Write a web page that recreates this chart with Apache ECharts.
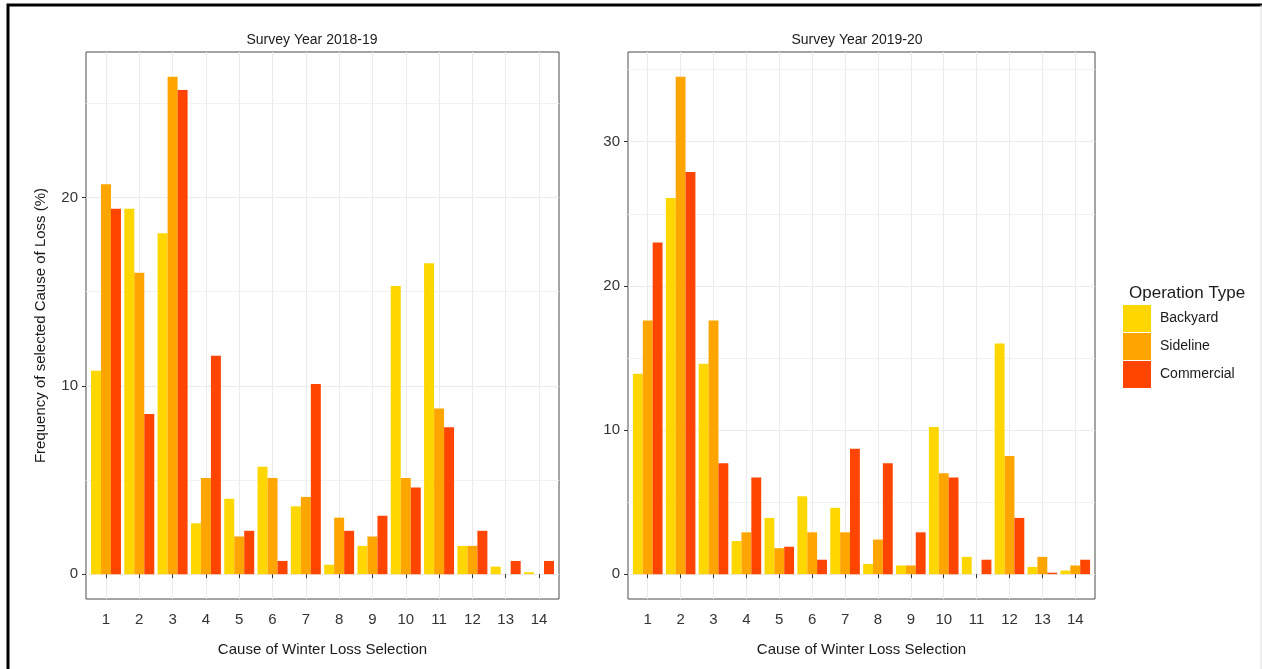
<!DOCTYPE html>
<html><head><meta charset="utf-8">
<script src="https://cdn.jsdelivr.net/npm/echarts@6/dist/echarts.min.js"></script>
<style>html,body{margin:0;padding:0;background:#fff}#c{width:1262px;height:669px}</style>
</head><body><div id="c"></div>
<script>
// ---- data ----
const causes = [1, 2, 3, 4, 5, 6, 7, 8, 9, 10, 11, 12, 13, 14];
const seriesNames = ['Backyard', 'Sideline', 'Commercial'];
const panelTitles = ['Survey Year 2018-19', 'Survey Year 2019-20'];
const y1819Backyard   = [10.8, 19.4, 18.1, 2.7, 4.0, 5.7, 3.6, 0.5, 1.5, 15.3, 16.5, 1.5, 0.4, 0.1];
const y1819Sideline   = [20.7, 16.0, 26.4, 5.1, 2.0, 5.1, 4.1, 3.0, 2.0, 5.1, 8.8, 1.5, 0, 0];
const y1819Commercial = [19.4, 8.5, 25.7, 11.6, 2.3, 0.7, 10.1, 2.3, 3.1, 4.6, 7.8, 2.3, 0.7, 0.7];
const y1920Backyard   = [13.9, 26.1, 14.6, 2.3, 3.9, 5.4, 4.6, 0.7, 0.6, 10.2, 1.2, 16.0, 0.5, 0.25];
const y1920Sideline   = [17.6, 34.5, 17.6, 2.9, 1.8, 2.9, 2.9, 2.4, 0.6, 7.0, 0, 8.2, 1.2, 0.6];
const y1920Commercial = [23.0, 27.9, 7.7, 6.7, 1.9, 1.0, 8.7, 7.7, 2.9, 6.7, 1.0, 3.9, 0.1, 1.0];
const yTicks1819 = [0, 10, 20];
const yMinor1819 = [5, 15, 25];
const yTicks1920 = [0, 10, 20, 30];
const yMinor1920 = [5, 15, 25, 35];
const xAxisTitle = 'Cause of Winter Loss Selection';
const yAxisTitle = 'Frequency of selected Cause of Loss (%)';
const legendTitle = 'Operation Type';

// ---- styles ----
const colors = ['#FFD700', '#FFA500', '#FF4500'];
const FONT = 'Liberation Sans, Arial, sans-serif';
const panels = [
  { left: 86, top: 52, width: 473, height: 547, data: [y1819Backyard, y1819Sideline, y1819Commercial], ticks: yTicks1819, minor: yMinor1819, titleX: 307 },
  { left: 628, top: 52, width: 467, height: 547, data: [y1920Backyard, y1920Sideline, y1920Commercial], ticks: yTicks1920, minor: yMinor1920, titleX: 852 }
];

const grid = [], xAxis = [], yAxis = [], series = [], title = [];
panels.forEach((p, pi) => {
  grid.push({ left: p.left, top: p.top, width: p.width, height: p.height, show: true,
    borderColor: '#4a4a4a', borderWidth: 1, backgroundColor: 'transparent', containLabel: false });
  const maxV = Math.max(...p.data.flat());
  const pad = maxV * 0.05;
  xAxis.push({ type: 'value', gridIndex: pi, min: 0.4, max: 14.6,
    name: xAxisTitle, nameLocation: 'middle', nameGap: 43,
    nameTextStyle: { fontFamily: FONT, fontSize: 15, color: '#1a1a1a' },
    axisLine: { show: false },
    axisTick: { show: true, length: 4, lineStyle: { color: '#333' }, customValues: causes },
    axisLabel: { customValues: causes, margin: 13, fontFamily: FONT, fontSize: 15, color: '#333' },
    splitLine: { show: true, lineStyle: { color: '#ebebeb', width: 1 } } });
  const yMin = -pad, yMax = maxV + pad;
  yAxis.push({ type: 'value', gridIndex: pi, min: yMin, max: yMax,
    name: pi === 0 ? yAxisTitle : '', nameLocation: 'middle', nameGap: 38,
    nameTextStyle: { fontFamily: FONT, fontSize: 15, color: '#1a1a1a' },
    axisLine: { show: false },
    axisTick: { show: true, length: 4, lineStyle: { color: '#333' }, customValues: p.ticks },
    axisLabel: { customValues: p.ticks, margin: 8, fontFamily: FONT, fontSize: 15, color: '#333' },
    splitLine: { show: true, lineStyle: { color: '#ebebeb', width: 1.2 } } });
  yAxis.push({ type: 'value', gridIndex: pi, min: yMin, max: yMax,
    axisLine: { show: false }, axisLabel: { show: false },
    axisTick: { show: false, customValues: p.minor },
    splitLine: { show: true, lineStyle: { color: '#f2f2f2', width: 1 } } });
  const bw = p.width / 14.2 * 0.3;
  p.data.forEach((vals, si) => {
    series.push({ type: 'bar', name: seriesNames[si], xAxisIndex: pi, yAxisIndex: pi * 2,
      data: causes.map((c, i) => [c, vals[i]]), barWidth: bw, barGap: '0%',
      itemStyle: { color: colors[si] }, animation: false, silent: true });
  });
  title.push({ text: panelTitles[pi], left: p.titleX, top: 28, textAlign: 'center',
    textStyle: { fontFamily: FONT, fontSize: 14, fontWeight: 'normal', color: '#1a1a1a' } });
});
title.push({ text: legendTitle, left: 1124, top: 280,
  textStyle: { fontFamily: FONT, fontSize: 17, fontWeight: 'normal', color: '#1a1a1a' } });

const chart = echarts.init(document.getElementById('c'), null, { renderer: 'canvas' });
chart.setOption({
  animation: false,
  backgroundColor: '#fff',
  title, grid, xAxis, yAxis, series,
  legend: { data: seriesNames, orient: 'vertical', left: 1123, top: 305, itemWidth: 28, itemHeight: 27,
    itemGap: 1, padding: 0, icon: 'rect', selectedMode: false,
    textStyle: { fontFamily: FONT, fontSize: 14, color: '#1a1a1a', padding: [0, 0, 0, 4] } },
  graphic: [
    { type: 'polyline', shape: { points: [[8, 669], [8, 5], [1262, 5]] }, style: { stroke: '#000', lineWidth: 3, fill: null } },
    { type: 'line', shape: { x1: 1261, y1: 5, x2: 1261, y2: 669 }, style: { stroke: '#ddd', lineWidth: 1 } }
  ]
});
</script></body></html>
